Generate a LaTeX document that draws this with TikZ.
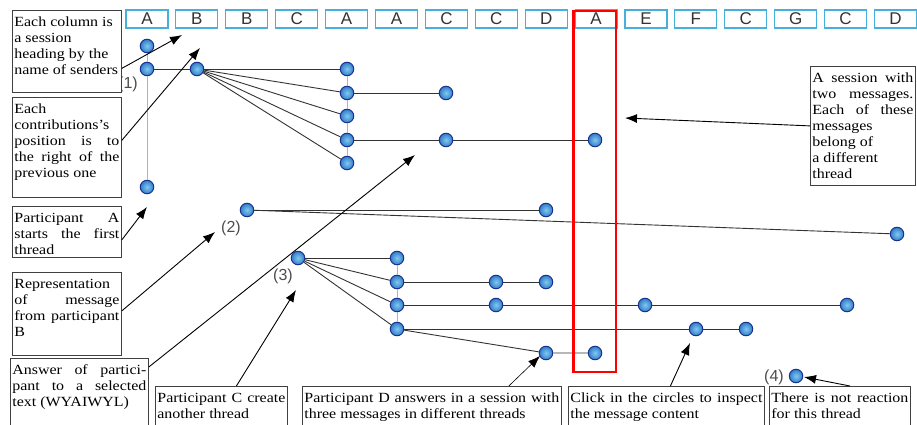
\documentclass[tikz,border=0pt]{standalone}
\usepackage{fontspec}
\setmainfont{Liberation Serif}[FakeStretch=1.14]
\newfontfamily\hdrfont{Liberation Sans}
\usetikzlibrary{arrows.meta}
\definecolor{msgblue}{RGB}{50,125,200}
\definecolor{msglight}{RGB}{130,200,240}
\definecolor{msgdark}{RGB}{25,50,145}
\definecolor{headcyan}{RGB}{70,175,220}
\newcommand{\notetext}[3]{\parbox[t][#1][t]{#2}{\strut#3}}

\tikzset{
  msg/.style={circle, draw=msgdark, line width=1pt, inner color=msglight, outer color=msgblue, minimum size=13.5pt, inner sep=0pt},
  colhead/.style={draw=headcyan, line width=1.1pt, minimum width=42pt, minimum height=18pt, inner sep=0pt, text=black!80, font=\hdrfont\fontsize{17}{17}\selectfont},
  note/.style={draw=black!75, line width=0.8pt, fill=white, anchor=north west, inner xsep=2pt, inner ysep=4.5pt, font=\fontsize{14}{16}\selectfont},
  num/.style={text=black!70, font=\hdrfont\fontsize{16}{16}\selectfont},
  thread/.style={draw=black!80, line width=0.9pt},
  tie/.style={draw=black!30, line width=1pt},
  call/.style={-{Latex[length=12pt,width=9pt]}, line width=0.9pt},
}

\begin{document}
\begin{tikzpicture}[x=1pt, y=-1pt]
  \clip (0,0) rectangle (917,425); %
  % session headings
  \foreach \who [count=\i from 0] in {A,B,B,C,A,A,C,C,D,A,E,F,C,G,C,D}
    \node[colhead] (h\i) at ({147+49.9*\i},19) {\who}; %

  % thread (1)
  \node[msg] (s0) at (147,46) {}; %
  \node[msg] (p1) at (147,69) {}; %
  \node[msg] (p0) at (147,187) {}; %
  \node[msg] (b1) at (197,69) {}; %
  \node[msg] (a1) at (347,69) {}; %
  \node[msg] (a2) at (347,93) {}; %
  \node[msg] (a3) at (347,116) {}; %
  \node[msg] (a4) at (347,140) {}; %
  \node[msg] (a5) at (347,163) {}; %
  \node[msg] (c1) at (446,93) {}; %
  \node[msg] (c2) at (446,140) {}; %
  \node[msg] (r1) at (595,140) {}; %
  % thread (2)
  \node[msg] (q1) at (247,210) {}; %
  \node[msg] (q2) at (546,210) {}; %
  \node[msg] (q3) at (897,234) {}; %
  % thread (3)
  \node[msg] (m0) at (298,258) {}; %
  \node[msg] (n1) at (397,258) {}; %
  \node[msg] (n2) at (397,282) {}; %
  \node[msg] (n3) at (397,305) {}; %
  \node[msg] (n4) at (397,329) {}; %
  \node[msg] (u1) at (496,282) {}; %
  \node[msg] (u2) at (546,282) {}; %
  \node[msg] (v1) at (496,305) {}; %
  \node[msg] (v2) at (645,305) {}; %
  \node[msg] (v3) at (847,305) {}; %
  \node[msg] (w1) at (696,329) {}; %
  \node[msg] (w2) at (746,329) {}; %
  \node[msg] (d1) at (546,353) {}; %
  \node[msg] (r2) at (595,353) {}; %
  % thread (4)
  \node[msg] (z1) at (796,376) {}; %

  \draw[tie] (s0) -- (p1); \draw[tie] (p1) -- (p0); %
  \draw[tie] (a1) -- (a2); \draw[tie] (a2) -- (a3); \draw[tie] (a3) -- (a4); \draw[tie] (a4) -- (a5); %
  \draw[tie] (n1) -- (n2); \draw[tie] (n2) -- (n3); \draw[tie] (n3) -- (n4); %

  \draw[thread] (p1) -- (b1); %
  \foreach \t in {a1,a2,a3,a4,a5} \draw[thread] (b1) -- (\t); %
  \draw[thread] (a2) -- (c1); %
  \draw[thread] (a4) -- (c2) -- (r1); %
  \draw[thread] (q1) -- (q2); %
  \draw[thread] (q1) -- (q3); %
  \foreach \t in {n1,n2,n3,n4} \draw[thread] (m0) -- (\t); %
  \draw[thread] (n2) -- (u1) -- (u2); %
  \draw[thread] (n3) -- (v1) -- (v2) -- (v3); %
  \draw[thread] (n4) -- (w1) -- (w2); %
  \draw[thread] (n4) -- (d1) -- (r2); %

  % selected session
  \draw[red, line width=2.6pt] (573.5,11) rectangle (616,372); %

  \node[num] (l1) at (128,84) {(1)}; %
  \node[num] (l2) at (231,228) {(2)}; %
  \node[num] (l3) at (283,276) {(3)}; %
  \node[num] (l4) at (774,377) {(4)}; %

  % notes
  \node[note] (box1) at (12,10) {\notetext{73pt}{105pt}{Each column is\\ a session\\ heading by the\\ name of senders}}; %
  \node[note] (box2) at (12,97) {\notetext{91pt}{105pt}{Each\\ contributions's\\ position\hfill is\hfill to\\ the\hfill right\hfill of\hfill the\\ previous one}}; %
  \node[note] (box3) at (12,206) {\notetext{42pt}{105pt}{Participant\hfill A\\ starts\hfill the\hfill first\\ thread}}; %
  \node[note] (box4) at (12,272) {\notetext{74pt}{105pt}{Representation\\ of\hfill message\\ from\hfill participant\\ B}}; %
  \node[note] (box5) at (10,358) {\notetext{64pt}{134pt}{Answer\hfill of\hfill partici-\\ pant\hfill to\hfill a\hfill selected\\ text (WYAIWYL)}}; %
  \node[note] (box6) at (155,386) {\notetext{40pt}{128pt}{Participant\hfill C\hfill create\\ another thread}}; %
  \node[note] (box7) at (302,386) {\notetext{40pt}{255pt}{Participant\hfill D\hfill answers\hfill in\hfill a\hfill session\hfill with\\ three messages in different threads}}; %
  \node[note] (box8) at (568,386) {\notetext{40pt}{192pt}{Click\hfill in\hfill the\hfill circles\hfill to\hfill inspect\\ the message content}}; %
  \node[note] (box9) at (769,386) {\notetext{40pt}{137pt}{There\hfill is\hfill not\hfill reaction\\ for this thread}}; %
  \node[note] (box10) at (810,66) {\notetext{110pt}{101pt}{A\hfill session\hfill with\\ two\hfill messages.\\ Each\hfill of\hfill these\\ messages\\ belong of\\ a different\\ thread}}; %

  % pointers
  \coordinate (tipHead) at (182,35); %
  \coordinate (tipPos) at (200,48); %
  \coordinate (tipStart) at (147,207); %
  \coordinate (tipTwo) at (215,232); %
  \coordinate (tipAns) at (415,155); %
  \coordinate (tipThree) at (296,290); %
  \coordinate (tipD) at (540,356); %
  \coordinate (tipClick) at (690,343); %
  \coordinate (tipNone) at (804,377); %
  \coordinate (tipSess) at (625,118); %

  \draw[call] ([yshift=-17pt]box1.east) -- (tipHead); %
  \draw[call] ([yshift=7pt]box2.east) -- (tipPos); %
  \draw[call] ([yshift=-8pt]box3.east) -- (tipStart); %
  \draw[call] ([yshift=3pt]box4.east) -- (tipTwo); %
  \draw[call] ([yshift=-9pt]box5.north east) -- (tipAns); %
  \draw[call] ([xshift=15pt]box6.north) -- (tipThree); %
  \draw[call, line width=0.6pt] ([xshift=-53pt]box7.north east) -- (tipD); %
  \draw[call] ([xshift=4pt]box8.north) -- (tipClick); %
  \draw[call] ([xshift=10pt]box9.north) -- (tipNone); %
  \draw[call] (box10.west) -- (tipSess); %
\end{tikzpicture}
\end{document}
